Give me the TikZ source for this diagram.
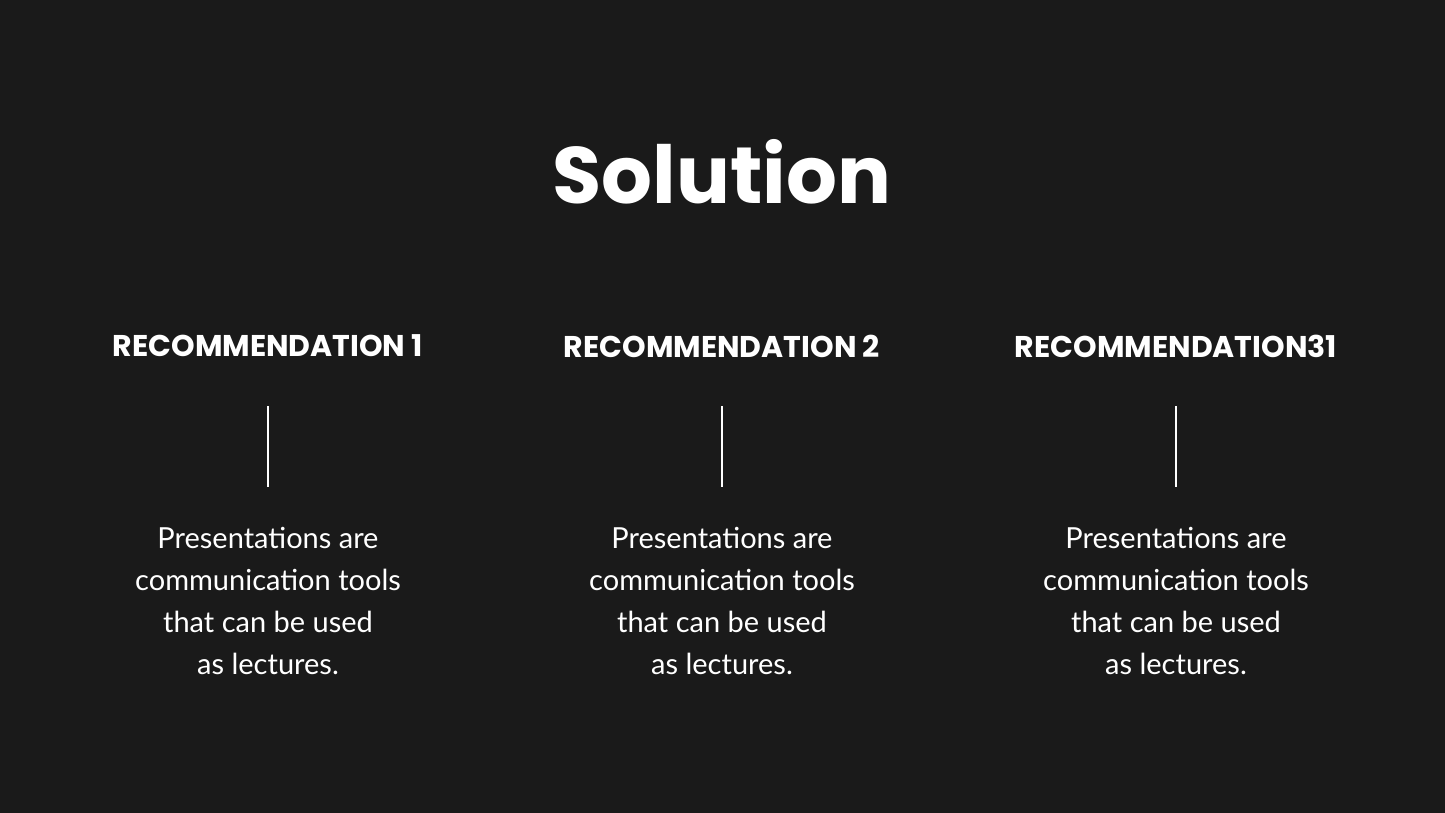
\documentclass[tikz,border=0pt]{standalone}
\usepackage{fontspec}
\setmainfont{Poppins}
\newfontfamily\bodyfont{Lato}
\definecolor{slidebg}{RGB}{26,26,26}
\begin{document}
\begin{tikzpicture}[x=1pt,y=1pt,yscale=-1,xscale=1]
	\tikzset{
		heading/.style={text=white,font=\fontsize{30}{36}\selectfont\bfseries,inner sep=0pt},
		blurb/.style={text=white,font=\bodyfont\fontsize{29}{42}\selectfont,align=center,inner sep=0pt},
		divider/.style={draw=white,line width=2.2pt}
	}
	\fill [slidebg] (0,0) rectangle (1445,813);
	\useasboundingbox (0,0) rectangle (1445,813);
	% title
	\node (title) [text=white,font=\fontsize{80}{90}\selectfont\bfseries,inner sep=0pt] at (722,172) {Solution};
	% columns
	\node (headA) [heading] at (268,346) {RECOMMENDATION 1};
	\node (headB) [heading] at (722,346) {RECOMMENDATION 2};
	\node (headC) [heading] at (1176,346) {RECOMMENDATION31};
	\coordinate (topA) at (268,406); \coordinate (botA) at (268,487);
	\coordinate (topB) at (722,406); \coordinate (botB) at (722,487);
	\coordinate (topC) at (1176,406); \coordinate (botC) at (1176,487);
	\draw [divider] (topA) -- (botA);
	\draw [divider] (topB) -- (botB);
	\draw [divider] (topC) -- (botC);
	\node (textA) [blurb] at (268,601) {Presentations are\\communication tools\\that can be used\\as lectures.};
	\node (textB) [blurb] at (722,601) {Presentations are\\communication tools\\that can be used\\as lectures.};
	\node (textC) [blurb] at (1176,601) {Presentations are\\communication tools\\that can be used\\as lectures.};
\end{tikzpicture}
\end{document}
